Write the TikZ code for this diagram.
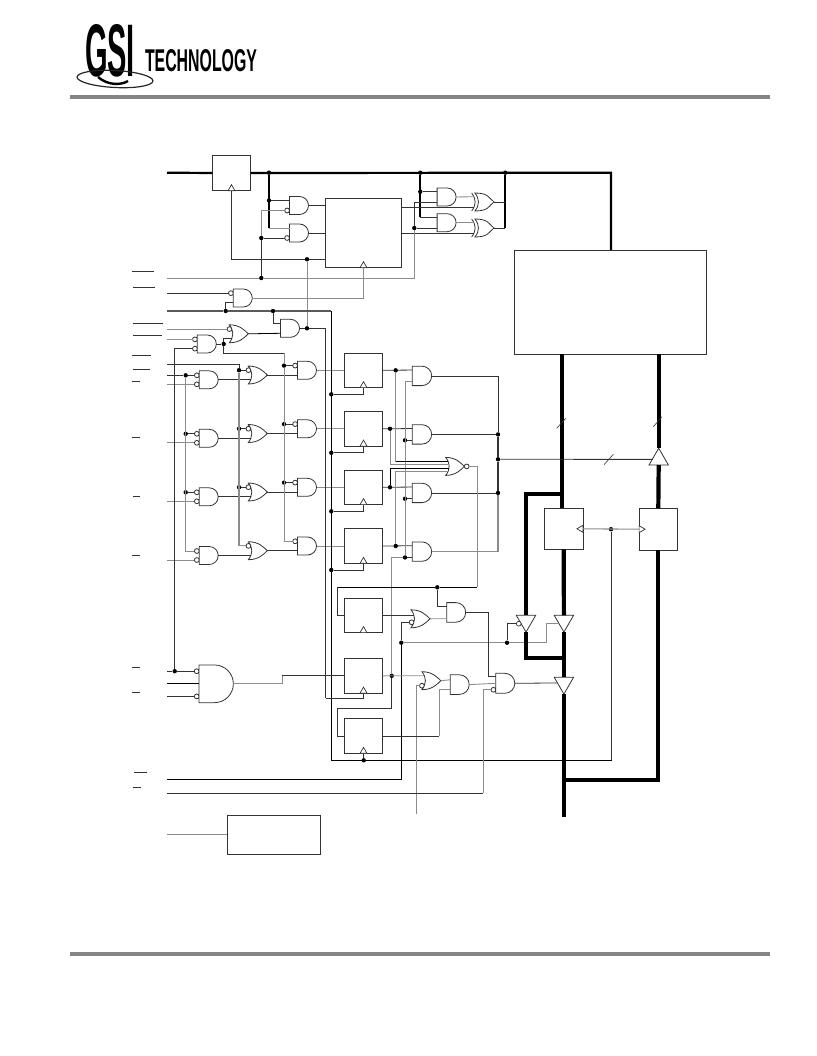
\documentclass[tikz,border=0pt]{standalone}
\usepackage{fontspec}
\usetikzlibrary{shapes.geometric}
\newfontfamily\logofont{Liberation Sans}

\pgfkeys{/pgf/pin sep/.initial = 9pt, /pgf/pin count/.initial = 2, /pgf/pin inv/.initial = {}, /pgf/gate kind/.initial = and}
\def\kindand{and}
\def\kindxor{xor}
\def\kindnor{nor}
\makeatletter
\def\gatedims{\northeast \edef\gxr{\the\pgf@x}\edef\gyt{\the\pgf@y}%
\southwest \edef\gxl{\the\pgf@x}\edef\gyb{\the\pgf@y}%
\pgfmathsetmacro\ghh{(\gyt-\gyb)/2}\pgfmathsetmacro\gcy{(\gyt+\gyb)/2}%
\def\gb{0}\ifx\gatekind\kindand\else\def\gb{3.5}\fi}
\def\gatepinpos#1{\pgfmathsetmacro\gdy{((\pincount+1)/2-#1)*\pinsep}%
\pgfmathsetmacro\gpx{\gxl+\gb*(1-(\gdy/\ghh)*(\gdy/\ghh))}}
\def\gatepintest#1{\edef\gatenext{\noexpand\pgfutil@in@{#1}{\pininv}}\gatenext}
\def\gatepin#1{\gatedims\gatepinpos{#1}%
\gatepintest{#1}%
\ifpgfutil@in@\pgfmathsetmacro\gpx{\gpx-4.8}\fi
\pgfpoint{\gpx}{\gcy+\gdy}}
\def\gatebubble#1{\gatepintest{#1}%
\ifpgfutil@in@\gatepinpos{#1}\pgfpathcircle{\pgfpoint{\gpx-2.4}{\gcy+\gdy}}{2.4pt}\fi}
\def\gateback#1{\pgfpathcurveto{\pgfpoint{#1+4.667}{\gcy+\ghh/3}}{\pgfpoint{#1+4.667}{\gcy-\ghh/3}}{\pgfpoint{#1}{\gyb}}}
\def\gateorbody#1{\pgfpathmoveto{\pgfpoint{#1}{\gyb}}%
\pgfpathcurveto{\pgfpoint{#1+.55*(\gxr-#1)}{\gyb}}{\pgfpoint{\gxr-.2*(\gxr-#1)}{\gcy-.4*\ghh}}{\pgfpoint{\gxr}{\gcy}}%
\pgfpathcurveto{\pgfpoint{\gxr-.2*(\gxr-#1)}{\gcy+.4*\ghh}}{\pgfpoint{#1+.55*(\gxr-#1)}{\gyt}}{\pgfpoint{#1}{\gyt}}%
\gateback{#1}\pgfpathclose}
\makeatother

\pgfdeclareshape{logicgate}{
\inheritsavedanchors[from=rectangle]
\inheritanchorborder[from=rectangle]
\inheritanchor[from=rectangle]{center}
\inheritanchor[from=rectangle]{north}
\inheritanchor[from=rectangle]{south}
\inheritanchor[from=rectangle]{east}
\inheritanchor[from=rectangle]{west}
\savedmacro{\pinsep}{\edef\pinsep{\pgfkeysvalueof{/pgf/pin sep}}}
\savedmacro{\pincount}{\edef\pincount{\pgfkeysvalueof{/pgf/pin count}}}
\savedmacro{\pininv}{\edef\pininv{\pgfkeysvalueof{/pgf/pin inv}}}
\savedmacro{\gatekind}{\edef\gatekind{\pgfkeysvalueof{/pgf/gate kind}}}
\anchor{input 1}{\gatepin{1}}
\anchor{input 2}{\gatepin{2}}
\anchor{input 3}{\gatepin{3}}
\anchor{input 4}{\gatepin{4}}
\anchor{output}{\gatedims
\ifx\gatekind\kindnor\pgfpoint{\gxr+4.8}{\gcy}\else\pgfpoint{\gxr}{\gcy}\fi}
\backgroundpath{\gatedims
\ifx\gatekind\kindand
\pgfpathmoveto{\pgfpoint{\gxl}{\gyt}}
\pgfpathlineto{\pgfpoint{\gxr-\ghh}{\gyt}}
\pgfpathcurveto{\pgfpoint{\gxr-.4477*\ghh}{\gyt}}{\pgfpoint{\gxr}{\gcy+.5523*\ghh}}{\pgfpoint{\gxr}{\gcy}}
\pgfpathcurveto{\pgfpoint{\gxr}{\gcy-.5523*\ghh}}{\pgfpoint{\gxr-.4477*\ghh}{\gyb}}{\pgfpoint{\gxr-\ghh}{\gyb}}
\pgfpathlineto{\pgfpoint{\gxl}{\gyb}}
\pgfpathclose
\else
\ifx\gatekind\kindxor
\pgfpathmoveto{\pgfpoint{\gxl}{\gyt}}
\gateback{\gxl}
\gateorbody{\gxl+3.3}
\else
\gateorbody{\gxl}
\fi
\fi
\gatebubble{1}\gatebubble{2}\gatebubble{3}\gatebubble{4}
\ifx\gatekind\kindnor\pgfpathcircle{\pgfpoint{\gxr+2.4}{\gcy}}{2.4pt}\fi}
}

\begin{document}
\begin{tikzpicture}
[x = 1pt, y = -1pt, 
wire/.style = {draw = black!80, line width = .8pt}, 
pale/.style = {draw = black!45, line width = .9pt}, 
tap/.style = {draw = black, line width = 1.8pt}, 
bus/.style = {draw = black, line width = 4.2pt}, 
hdr/.style = {draw = black!48, line width = 4pt}, 
dot/.style = {circle, fill = black, inner sep = 0, minimum size = 4.4pt}, 
gate/.style = {shape = logicgate, draw = black!80, line width = .8pt, inner sep = 0, outer sep = 0, minimum width = 19pt, minimum height = 18pt}, 
andg/.style = {gate, gate kind = and}, 
org/.style = {gate, gate kind = or}, 
norg/.style = {gate, gate kind = nor}, 
xorg/.style = {gate, gate kind = xor, minimum width = 22.3pt, pin sep = 10.6pt}, 
reg/.style = {rectangle, draw = black!80, line width = .8pt, minimum width = 38.4pt, minimum height = 34.6pt, inner sep = 0, outer sep = 0}, 
clock/.style = {regular polygon, regular polygon sides = 3, draw = black!80, fill = white, line width = .7pt, inner sep = 0, outer sep = 0, minimum size = 8pt, anchor = side 2}, 
buf/.style = {regular polygon, regular polygon sides = 3, draw = black!80, fill = white, line width = .8pt, inner sep = 0, outer sep = 0, minimum size = 22.4pt, anchor = side 2}, 
bub/.style = {circle, draw = black!80, fill = white, line width = .7pt, inner sep = 0, outer sep = 0, minimum size = 4.8pt}]

\useasboundingbox (0,0) rectangle (816,1056);

% header
\node[inner sep = 0] (logoGsi) at (110,51) {\resizebox{50pt}{52pt}{\logofont\bfseries GSI}};
\node[inner sep = 0] (logoTech) at (201,61) {\resizebox{112pt}{22pt}{\logofont\bfseries TECHNOLOGY}};
\draw[black!85, line width = 1.2pt, rotate around = {-3:(115,79)}] (115,79) ellipse [x radius = 38, y radius = 8.5];
\draw[black, line width = 2.4pt] (98,77) .. controls (108,86) and (122,85) .. (128,81);
\draw[hdr] (70,97) -- (770,97);
\draw[hdr] (70,954) -- (770,954);

% registers and memory
\node[reg, minimum height = 35.4pt] (rA) at (231.5,173) {};
\node[reg, minimum width = 75.6pt, minimum height = 69.4pt] (rCnt) at (363.5,233) {};
\node[reg, minimum width = 191.7pt, minimum height = 104pt] (mem) at (610.2,302) {};
\node[reg, minimum height = 41pt] (rOut) at (563.7,528.8) {};
\node[reg, minimum height = 41.7pt] (rIn) at (658.3,529.2) {};
\node[reg] (dE) at (363.5,615.3) {};
\node[reg] (dF) at (363.5,675.8) {};
\node[reg] (dG) at (363.5,736) {};
\node[reg, minimum width = 93.4pt, minimum height = 38.7pt] (boxZ) at (274,834.7) {};

\node[clock] (ckA) at (rA.south) {};
\node[clock] (ckCnt) at (rCnt.south) {};
\node[clock] (ckE) at (dE.south) {};
\node[clock] (ckF) at (dF.south) {};
\node[clock] (ckG) at (dG.south) {};
\node[clock, rotate = 90] (ckOut) at (rOut.east) {};
\node[clock, rotate = -90] (ckIn) at (rIn.west) {};

% top gates
\node[andg, pin inv = 2, pin sep = 10pt] (gA) at (299,205.5) {};
\node[andg, pin inv = 2, pin sep = 10pt] (gB) at (299,233) {};
\node[andg, pin inv = 1, pin sep = 9.7pt] (gClk) at (242.8,298) {};
\node[andg, pin sep = 10pt] (gWr) at (290,328.3) {};
\node[org, pin inv = 1, pin sep = 9.4pt] (gOr) at (238.8,333.8) {};
\node[andg, pin inv = 12, pin sep = 9.3pt] (gCe) at (206.8,344) {};
\node[andg, pin sep = 10.6pt] (hA) at (446.6,197) {};
\node[andg, pin sep = 10.7pt] (hB) at (446.6,222.7) {};
\node[xorg] (xA) at (482.8,202) {};
\node[xorg] (xB) at (482.8,228) {};

% four rows
\foreach \n/\y in {1/370.3, 2/428.8, 3/487.3, 4/546} {
\node[andg, pin inv = 12] (a\n) at (208.7,\y+9.5) {};
\node[org, pin inv = 1, pin sep = 9.6pt] (o\n) at (257.8,\y+4.7) {};
\node[andg, pin inv = 1, pin sep = 9.4pt] (b\n) at (307,\y) {};
\node[reg] (d\n) at (363.5,\y) {};
\node[clock] (ck\n) at (d\n.south) {};
\node[andg, minimum width = 19.4pt, minimum height = 19.4pt, pin sep = 11.7pt] (c\n) at (422,\y+5.6) {};
\coordinate (pa\n) at (167,\y+14);
\node[dot] (jr\n) at (331.3,\y+24) {};
\draw[wire] (a\n.output) -- (o\n.input 2);
\draw[wire] (o\n.output) -- (b\n.input 2);
\draw[pale] (b\n.output) -- (d\n.west);
\draw[wire] (d\n.east) -- (c\n.input 1);
\draw[wire] (jr\n) -| (ck\n.south);
\draw[pale] (pa\n) -- (a\n.input 2);
}

% rails of the four rows
\foreach \n in {1, 2, 3} {
\node[dot] (ja\n) at (185.7,0 |- a\n.input 1) {};
\node[dot] (jo\n) at (239,0 |- o\n.input 1) {};
\node[dot] (jb\n) at (284,0 |- b\n.input 1) {};
\draw[wire] (ja\n) -- (a\n.input 1);
\draw[wire] (jo\n) -- (o\n.input 1);
\draw[wire] (jb\n) -- (b\n.input 1);
}
\coordinate (pinQ) at (167,364.7);
\coordinate (pinP) at (167,0 |- a1.input 1);
\draw[wire] (pinP) -- (ja1);
\draw[pale] (ja1) |- (a4.input 1);
\draw[wire] (pinQ) -| (jo1);
\draw[pale, line width = 1.1pt] (jo1) |- (o4.input 1);
\node[dot] (jCe) at (223.7,0 |- gCe.output) {};
\coordinate (kCe) at (284,353.3);
\draw[wire] (gCe.output) -- (jCe);
\draw[wire] (jCe) |- (gOr.input 2);
\draw[wire] (jCe) |- (kCe);
\draw[pale] (kCe) -- (jb1);
\draw[pale] (jb1) |- (b4.input 1);

% top of the picture
\coordinate (pinBus) at (167,172.7);
\node[dot] (jB1) at (269,172.7) {};
\node[dot] (jH) at (420.3,172.7) {};
\node[dot] (jX) at (505.3,172.7) {};
\coordinate (kBus) at (611,172.7);
\coordinate (kB2) at (269,0 |- gB.input 1);
\coordinate (kH2) at (420.3,0 |- hB.input 1);
\node[dot] (jB2) at (269,0 |- gA.input 1) {};
\node[dot] (jH2) at (420.3,0 |- hA.input 1) {};
\draw[tap, line width = 2.2pt] (pinBus) -- (rA.west);
\draw[tap, line width = 2.2pt] (rA.east) -- (kBus) -- (kBus |- mem.north);
\draw[tap] (jB1) -- (kB2);
\draw[tap] (jH) -- (kH2);
\draw[wire] (jB2) -- (gA.input 1);
\draw[pale] (kB2) -- (gB.input 1);
\draw[wire] (jH2) -- (hA.input 1);
\draw[wire] (kH2) -- (hB.input 1);
\draw[pale] (hA.output) -- (xA.input 1);
\draw[pale] (hB.output) -- (xB.input 1);
\draw[wire] (gA.output) -- (rCnt.west |- gA.output);
\draw[wire] (gB.output) -- (rCnt.west |- gB.output);
\draw[wire] (rCnt.east |- xA.input 2) -- (xA.input 2);
\draw[wire] (rCnt.east |- xB.input 2) -- (xB.input 2);
\coordinate (kX) at (505.3,0 |- xB.output);
\draw[tap] (jX) -- (kX);
\draw[wire] (xA.output) -- (505.3,0 |- xA.output);
\draw[wire] (xB.output) -- (kX);

\coordinate (pinA) at (167,278);
\coordinate (pinB) at (167,0 |- gClk.input 1);
\coordinate (pinC) at (167,311);
\coordinate (pinD) at (167,0 |- gOr.input 1);
\coordinate (pinE) at (167,0 |- gCe.input 1);
\node[dot] (jM1) at (261.3,278) {};
\node[dot] (jM2) at (414.3,0 |- hB.input 2) {};
\node[dot] (jM3) at (261.3,0 |- gB.input 2) {};
\node[dot] (jClk) at (307,259.3) {};
\node[dot] (jWr) at (307,0 |- gWr.output) {};
\node[dot] (jW1) at (225.7,311) {};
\node[dot] (jW2) at (273,311) {};
\coordinate (kRail) at (331.3,311);
\coordinate (kRail2) at (331.3,760.3);
\coordinate (kG) at (325.7,698.3);
\node[dot] (jIn) at (611,0 |- ckIn) {};
\coordinate (kCk) at (611,760.3);
\node[dot] (jG) at (363.7,760.3) {};

\draw[pale] (pinA) -- (jM1);
\draw[pale] (jM1) -| (jM2);
\draw[wire] (jM2) |- (hA.input 2);
\draw[wire] (jM2) -- (hB.input 2);
\draw[wire] (jM1) -- (jM3);
\draw[pale] (jM3) |- (gA.input 2);
\draw[wire] (jM3) -- (gB.input 2);
\draw[wire] (ckA.south) |- (jClk);
\draw[wire] (jClk) -- (rCnt.west |- jClk);
\draw[pale] (jClk) -- (jWr);
\draw[wire] (pinB) -- (gClk.input 1);
\draw[pale] (gClk.output) -| (ckCnt.south);
\draw[wire, draw = black!65, line width = 1.1pt] (pinC) -- (jW1) -- (jW2) -- (kRail);
\draw[wire, draw = black] (kRail) -- (kRail2) -- (kCk) -- (jIn);
\draw[wire] (jW1) |- (gClk.input 2);
\draw[wire] (jW2) |- (gWr.input 1);
\draw[wire, draw = black] (gOr.output) -- (gWr.input 2);
\draw[wire] (gWr.output) -- (jWr);
\draw[wire] (jWr) -| (kG);
\draw[wire] (kG) -| (ckF.south);
\draw[pale] (pinD) -- (gOr.input 1);
\draw[pale] (pinE) -- (gCe.input 1);

% right of the four rows
\node[dot] (jx1) at (395.7,0 |- d1.east) {};
\node[dot] (jx2) at (390,0 |- d2.east) {};
\node[dot] (jx3) at (390,0 |- d3.east) {};
\node[dot] (jx4) at (395.7,0 |- d4.east) {};
\node[dot] (jk2) at (405,0 |- c2.input 2) {};
\node[dot] (jk3) at (405,0 |- c3.input 2) {};
\node[dot] (jk4) at (405,0 |- c4.input 2) {};
\node[dot] (jQ) at (391.7,0 |- dF.east) {};
\coordinate (kFb) at (337.3,708.3);
\draw[pale] (c1.input 2) -| (jk4);
\draw[wire] (jk2) -- (c2.input 2);
\draw[wire] (jk3) -- (c3.input 2);
\draw[wire] (jk4) -- (c4.input 2);
\draw[pale, line width = 1.1pt] (jk4) -| (jQ);
\draw[wire] (jQ) |- (kFb);
\draw[wire] (kFb) |- (dG.west);

\node[norg, pin count = 4, pin sep = 3.33pt, minimum width = 18.6pt] (gNor) at (455,466.4) {};
\draw[pale] (jx1) |- (gNor.input 1);
\draw[wire, draw = black] (jx1 |- gNor.input 1) -- (gNor.input 1);
\draw[pale] (jx2) |- (gNor.input 2);
\draw[wire, draw = black] (jx3) |- (gNor.input 3);
\draw[pale] (jx4) |- (gNor.input 4);

\node[dot] (jc2) at (498,0 |- c2.output) {};
\node[dot] (jc3) at (498,0 |- c3.output) {};
\node[dot] (jm) at (498,459.3) {};
\draw[wire] (c1.output) -| (jc2);
\draw[wire] (c2.output) -- (jc2);
\draw[wire, line width = 1.1pt] (jc2) -- (jm) -- (jc3);
\draw[wire] (c3.output) -- (jc3);
\draw[pale, line width = 1.1pt] (c4.output) -| (jc3);

% output stage
\node[buf] (tU) at (658.7,465) {};
\node[buf, rotate = 180] (tA) at (526,615.3) {};
\node[buf, rotate = 180] (tB) at (563.9,615.3) {};
\node[buf, rotate = 180] (tC) at (563.9,677.3) {};
\node[bub, anchor = east] (bA) at (tA.side 3) {};

\coordinate (kN) at (477.3,587.3);
\node[dot] (jE) at (437.3,587.3) {};
\coordinate (kE) at (337.3,587.3);
\draw[pale] (gNor.output) -| (kN);
\draw[wire, draw = black] (kN) -- (jE) -- (kE);
\draw[wire] (kE) |- (dE.west);

\node[org, pin inv = 2, pin sep = 7pt] (gP) at (420.5,618.8) {};
\node[andg, minimum height = 19.6pt, pin sep = 12.7pt] (gQ) at (456.2,612.4) {};
\node[org, pin inv = 2, pin sep = 10pt] (gR) at (431.4,680.7) {};
\node[andg, minimum height = 19.6pt, pin sep = 9.7pt] (gS) at (459.7,684.6) {};
\node[andg, pin count = 3, pin inv = 3, pin sep = 6.5pt, minimum height = 20pt] (gT) at (505.3,683.3) {};
\draw[wire] (jE) |- (gQ.input 1);
\draw[pale] (gP.output) -- (gQ.input 2);
\draw[wire] (dE.east) -- (gP.input 1);
\node[dot] (jK) at (401.3,642.7) {};
\node[dot] (jL) at (507,642.7) {};
\coordinate (kL) at (546.7,642.7);
\coordinate (pinJ) at (167,779.3);
\draw[wire, draw = black] (pinJ) -| (jK);
\draw[wire] (jK) |- (gP.input 2);
\draw[pale] (jK) -- (jL) -- (kL);
\draw[pale] (kL) |- (tB.side 3);
\draw[wire] (jL) |- (bA.west);

\coordinate (kH) at (488.3,0 |- gT.input 1);
\draw[wire] (gQ.output) -| (kH);
\draw[wire] (kH) -- (gT.input 1);
\draw[pale] (gS.output) -- (gT.input 2);
\draw[wire] (gT.output) -- (tC);
\draw[pale] (dF.east) -- (gR.input 1);
\draw[pale] (gR.output) -- (gS.input 1);
\coordinate (pinK) at (416.7,814);
\draw[pale] (pinK) |- (gR.input 2);
\coordinate (kM) at (439,736);
\draw[wire] (dG.east) -- (kM);
\draw[pale] (kM) |- (gS.input 2);
\coordinate (pinH) at (167,793);
\coordinate (kI) at (483,793);
\draw[wire] (pinH) -- (kI);
\draw[pale] (kI) |- (gT.input 3);
\draw[wire] (jG) -- (ckG.south);

% big gate on the left
\node[andg, pin count = 3, pin inv = 13, minimum width = 34.3pt, minimum height = 37.7pt, pin sep = 12.6pt] (gBig) at (216.2,683.8) {};
\node[dot] (jBig) at (174.7,0 |- gBig.input 1) {};
\coordinate (pinU) at (167,0 |- gBig.input 1);
\coordinate (pinV) at (167,0 |- gBig.input 2);
\coordinate (pinW) at (167,0 |- gBig.input 3);
\coordinate (kBig) at (282.3,0 |- dF.west);
\draw[wire] (pinU) -- (jBig) -- (gBig.input 1);
\draw[wire, draw = black] (pinV) -- (gBig.input 2);
\draw[wire] (pinW) -- (gBig.input 3);
\draw[wire] (gCe.input 2) -| (jBig);
\draw[pale] (gBig.output) -| (kBig);
\draw[wire] (kBig) -- (dF.west);
\coordinate (pinZ) at (167,0 |- boxZ.west);
\draw[pale] (pinZ) -- (boxZ.west);

% main buses
\coordinate (mU1) at (562,354);
\coordinate (mU2) at (658.7,354);
\coordinate (kLoop) at (562,494.3);
\coordinate (kBack) at (563.9,658.3);
\coordinate (kEnd) at (563.9,817.3);
\coordinate (kR) at (563.9,780);
\draw[bus] (mU1) -- (mU1 |- rOut.north);
\draw[bus] (mU2) -- (tU.corner 1);
\draw[bus] (tU.side 2) -- (rIn.north);
\draw[bus] (kLoop) -| (tA.side 2);
\draw[bus] (tA.corner 1) |- (kBack);
\draw[bus] (rOut.south) -- (tB.side 2);
\draw[bus] (tB.corner 1) -- (tC.side 2);
\draw[bus] (tC.corner 1) -- (kEnd);
\draw[bus] (rIn.south) |- (kR);
\draw[pale, line width = 1.1pt] (ckOut) -- (ckIn);
\draw[wire] (jIn) -- (kCk);
\draw[wire] (jm) -- (tU);

% bus ticks and bars
\draw[wire, line width = .6pt] (556.7,428.3) -- (565.7,418.3);
\draw[wire, line width = .6pt] (653.3,426.7) -- (662,416.7);
\draw[wire, line width = .6pt] (604,464.7) -- (613.3,454.3);
\foreach \a/\b/\y in {132/154/271.7, 133/155/287, 133/162.7/323.3, 133/162/335.7, 132/150.7/355.3, 133/150.3/369, 132.3/140/381.7, 132/140/437.3, 133/140/496, 132.3/140/555, 132/139.7/667.3, 132/139.7/692, 134/146.7/772.3, 133/141.3/787.3} {
\draw[wire] (\a,\y) -- (\b,\y);
}
\end{tikzpicture}
\end{document}
